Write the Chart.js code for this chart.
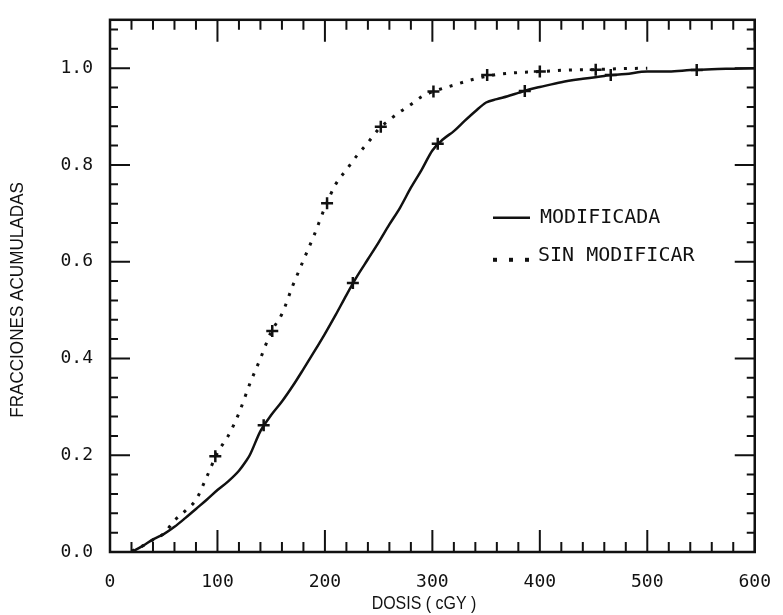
<!DOCTYPE html>
<html>
<head>
<meta charset="utf-8">
<title>Fracciones acumuladas</title>
<script src="https://cdn.jsdelivr.net/npm/chart.js@4.4.1/dist/chart.umd.min.js"></script>
<style>
    html, body { margin: 0; padding: 0; background: #fff; }
</style>
</head>
<body>
<canvas id="dosis_chart" width="783" height="615"></canvas>
<script>
// curva MODIFICADA (linea continua)
let dosisMod = [20, 30, 40, 50, 60, 70, 80, 90, 100, 110, 120, 126, 130, 140, 150, 160, 170, 180, 190, 200,
    210, 220, 230, 240, 250, 260, 270, 280, 290, 300, 310, 320, 330, 340, 350, 360, 370, 380, 390, 400,
    420, 440, 460, 480, 500, 520, 540, 560, 580, 600];
let fracMod = [0.0, 0.012, 0.026, 0.037, 0.052, 0.070, 0.089, 0.108, 0.128, 0.146, 0.168, 0.186, 0.200, 0.250, 0.283, 0.311, 0.343, 0.378, 0.414, 0.451,
    0.490, 0.531, 0.570, 0.605, 0.640, 0.677, 0.712, 0.753, 0.790, 0.830, 0.853, 0.870, 0.891, 0.911, 0.929, 0.936, 0.942, 0.949, 0.956, 0.961,
    0.971, 0.978, 0.984, 0.988, 0.993, 0.993, 0.996, 0.998, 0.999, 1.0];

// curva SIN MODIFICAR (punteada)
let dosisSin = [20, 30, 40, 50, 60, 70, 80, 90, 100, 110, 120, 130, 140, 150, 160, 170, 180, 190, 200,
    210, 220, 230, 240, 250, 260, 270, 280, 290, 300, 320, 340, 360, 380, 400, 425, 450, 475, 500];
let fracSin = [0.002, 0.012, 0.025, 0.038, 0.065, 0.085, 0.108, 0.155, 0.205, 0.240, 0.287, 0.347, 0.400, 0.455, 0.492, 0.550, 0.603, 0.655, 0.712,
    0.760, 0.790, 0.820, 0.846, 0.874, 0.893, 0.910, 0.925, 0.941, 0.951, 0.965, 0.978, 0.987, 0.991, 0.993, 0.996, 0.997, 0.999, 1.0];

// marcas "+" sobre cada curva
let marcaModX = [143, 226, 305, 386, 466, 546];
let marcaModY = [0.262, 0.556, 0.844, 0.953, 0.986, 0.996];
let marcaSinX = [98, 151, 202, 252, 301, 351, 400, 452];
let marcaSinY = [0.198, 0.457, 0.721, 0.879, 0.952, 0.986, 0.993, 0.997];

let xLabel = 'DOSIS ( cGY )';
let yLabel = 'FRACCIONES ACUMULADAS';
let serieNombres = ['MODIFICADA', 'SIN MODIFICAR'];

const ink = '#111';
const monoFont = "'DejaVu Sans Mono', 'Liberation Mono', monospace";
const titleFont = "'Liberation Sans', Arial, sans-serif";

function toPoints(xs, ys) {
    return xs.map((x, i) => ({ x: x, y: ys[i] }));
}

// texto estrecho (el plotter usa letras altas y angostas)
function narrowText(ctx, text, x, y, angle, squeeze) {
    ctx.save();
    ctx.translate(x, y);
    ctx.rotate(angle);
    ctx.scale(squeeze, 1);
    ctx.fillText(text, 0, 0);
    ctx.restore();
}

// marco con marcas hacia dentro, leyenda y titulos de ejes
const plotterFrame = {
    id: 'plotterFrame',
    afterDraw(chart) {
        const ctx = chart.ctx;
        const area = chart.chartArea;
        const xs = chart.scales.x;
        const ys = chart.scales.y;

        ctx.save();
        ctx.strokeStyle = ink;
        ctx.fillStyle = ink;
        ctx.lineWidth = 2;

        ctx.beginPath();
        for (let v = 0; v <= 600; v += 20) {
            const px = xs.getPixelForValue(v);
            const len = (v % 100 === 0) ? 22 : 10;
            ctx.moveTo(px, area.bottom);
            ctx.lineTo(px, area.bottom - len);
            ctx.moveTo(px, area.top);
            ctx.lineTo(px, area.top + len);
        }
        for (let i = 0; i <= 27; i++) {
            const py = ys.getPixelForValue(i * 0.04);
            const len = (i % 5 === 0) ? 20 : 8;
            ctx.moveTo(area.left, py);
            ctx.lineTo(area.left + len, py);
            ctx.moveTo(area.right, py);
            ctx.lineTo(area.right - len, py);
        }
        ctx.stroke();

        ctx.lineWidth = 2.5;
        ctx.strokeRect(area.left, area.top, area.right - area.left, area.bottom - area.top);

        // leyenda
        const lx = area.left + 383;
        const ly1 = area.top + 198;
        const ly2 = area.top + 236;
        ctx.beginPath();
        ctx.moveTo(lx, ly1);
        ctx.lineTo(lx + 37, ly1);
        ctx.stroke();
        [0, 16, 32].forEach(d => ctx.fillRect(lx + d, ly2 + 2, 4, 4));

        ctx.font = '20px ' + monoFont;
        ctx.textAlign = 'left';
        ctx.textBaseline = 'middle';
        ctx.fillText(serieNombres[0], lx + 47, ly1);
        ctx.fillText(serieNombres[1], lx + 45, ly2);

        // titulos de ejes
        ctx.font = '19px ' + titleFont;
        ctx.textAlign = 'center';
        narrowText(ctx, xLabel, 424, 604, 0, 0.84);
        narrowText(ctx, yLabel, 18, 300, -Math.PI / 2, 0.9);
        ctx.restore();
    }
};

const config = {
    type: 'scatter',
    data: {
        datasets: [
            {
                label: serieNombres[0],
                data: toPoints(dosisMod, fracMod),
                showLine: true,
                borderColor: ink,
                borderWidth: 2.5,
                pointRadius: 0,
                cubicInterpolationMode: 'monotone'
            },
            {
                label: serieNombres[1],
                data: toPoints(dosisSin, fracSin),
                showLine: true,
                borderColor: ink,
                borderWidth: 3,
                borderDash: [3, 8],
                pointRadius: 0,
                cubicInterpolationMode: 'monotone'
            },
            {
                label: serieNombres[0] + ' +',
                data: toPoints(marcaModX, marcaModY),
                showLine: false,
                pointStyle: 'cross',
                pointRadius: 6,
                pointBorderWidth: 2.5,
                borderColor: ink
            },
            {
                label: serieNombres[1] + ' +',
                data: toPoints(marcaSinX, marcaSinY),
                showLine: false,
                pointStyle: 'cross',
                pointRadius: 6,
                pointBorderWidth: 2.5,
                borderColor: ink
            }
        ]
    },
    options: {
        responsive: false,
        animation: false,
        layout: {
            padding: { left: 0, right: 21, top: 7, bottom: 0 }
        },
        plugins: {
            legend: { display: false },
            tooltip: { enabled: false }
        },
        scales: {
            x: {
                type: 'linear',
                min: 0,
                max: 600,
                grid: { display: false },
                border: { display: false },
                ticks: {
                    stepSize: 20,
                    autoSkip: false,
                    maxRotation: 0,
                    padding: 12,
                    color: ink,
                    font: { family: monoFont, size: 18 },
                    callback: v => (v % 100 === 0 ? String(v) : '')
                },
                afterFit: s => { s.height = 63; }
            },
            y: {
                type: 'linear',
                min: 0,
                max: 1.1,
                grid: { display: false },
                border: { display: false },
                ticks: {
                    stepSize: 0.04,
                    autoSkip: false,
                    padding: 9,
                    color: ink,
                    font: { family: monoFont, size: 18 },
                    callback: v => (Math.round(v * 100) % 20 === 0 ? v.toFixed(1) : '')
                },
                afterFit: s => { s.width = 110; }
            }
        }
    },
    plugins: [plotterFrame]
};

new Chart(document.getElementById('dosis_chart'), config);
</script>
</body>
</html>
